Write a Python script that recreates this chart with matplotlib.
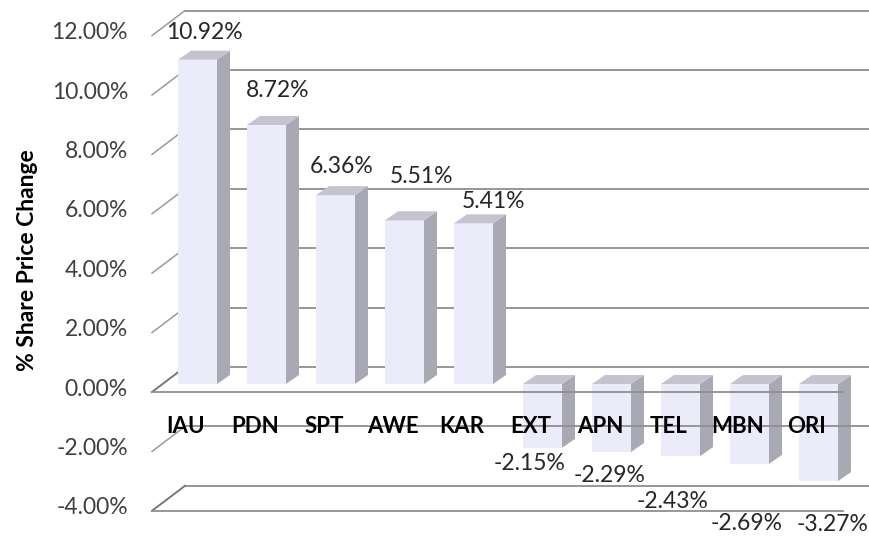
import matplotlib.pyplot as plt
from matplotlib.patches import Polygon

tickers = ['IAU', 'PDN', 'SPT', 'AWE', 'KAR', 'EXT', 'APN', 'TEL', 'MBN', 'ORI']
changes = [10.92, 8.72, 6.36, 5.51, 5.41, -2.15, -2.29, -2.43, -2.69, -3.27]
y_ticks = [-4, -2, 0, 2, 4, 6, 8, 10, 12]

# Excel shoved the value labels around, nudges in pixels
label_dx = [7, 11, 6, 17, 20, -13, -2, -8, -3, 14]
label_dy = [18, 26, 20, 35, 13, -16, -23, -45, -60, -43]

plt.rcParams['font.family'] = ['Lato', 'DejaVu Sans']

PX = 69.0   # pixels per category
PY = 29.7   # pixels per percent

fig = plt.figure(figsize=(8.7, 5.38), dpi=100)
ax = fig.add_axes([0, 0, 1, 1])
ax.set_xlim(-197.5 / PX, 672.5 / PX)
ax.set_ylim(-154 / PY, 384 / PY)
ax.axis('off')

# fake 3d geometry
half = 19.5 / PX
dep_x, dep_y = 13 / PX, 9 / PY
front_x, back_x = -45.5 / PX, -12.5 / PX
front_off, back_off = -8 / PY, 17 / PY
floor_end = 645.5 / PX
right_end = ax.get_xlim()[1]

grid_col = '#8f8f8f'
for t in y_ticks:
    top = t == -2
    ax.plot([back_x, right_end], [t + back_off] * 2, color=grid_col, lw=1.3,
            zorder=3 if top else 1)
    dark = t in (0, -4)
    ax.plot([front_x, back_x], [t + front_off, t + back_off],
            color='#777777' if dark else '#9a9a9a', lw=1.4 if dark else 1.1, zorder=1)
    ax.text(front_x - 24 / PX, t + front_off + 3 / PY, '{:.2f}%'.format(t),
            ha='right', va='center', fontsize=16.5, color='#404040')

# floors at 0 and -4
for t in (0, -4):
    ax.plot([front_x, floor_end], [t + front_off] * 2, color=grid_col, lw=1.3, zorder=3)

front_col, side_col, top_col = '#ebebfa', '#a9a9b6', '#c4c4d0'
for i, v in enumerate(changes):
    lo, hi = min(v, 0), max(v, 0)
    x0, x1 = i - half, i + half
    ax.add_patch(Polygon([(x0, lo), (x1, lo), (x1, hi), (x0, hi)],
                         facecolor=front_col, edgecolor='none', zorder=2))
    ax.add_patch(Polygon([(x1, lo), (x1 + dep_x, lo + dep_y), (x1 + dep_x, hi + dep_y), (x1, hi)],
                         facecolor=side_col, edgecolor='none', zorder=2))
    ax.add_patch(Polygon([(x0, hi), (x1, hi), (x1 + dep_x, hi + dep_y), (x0 + dep_x, hi + dep_y)],
                         facecolor=top_col, edgecolor='none', zorder=2))

    anchor = (i, v + dep_y) if v > 0 else (i, v)
    ax.annotate('{:.2f}%'.format(v), anchor, xytext=(label_dx[i], label_dy[i]),
                textcoords='offset pixels', ha='center', va='center',
                fontsize=16.5, color='#262626', zorder=5)

    ax.text(i - 11.5 / PX, -2 + back_off, tickers[i], ha='center', va='center',
            fontsize=16, fontweight='bold', color='black', zorder=5)

fig.text(28 / 870, 1 - 260 / 538, '% Share Price Change', rotation=90,
         ha='center', va='center', fontsize=16.5, fontweight='bold')

fig.savefig('out.png', dpi=100)
